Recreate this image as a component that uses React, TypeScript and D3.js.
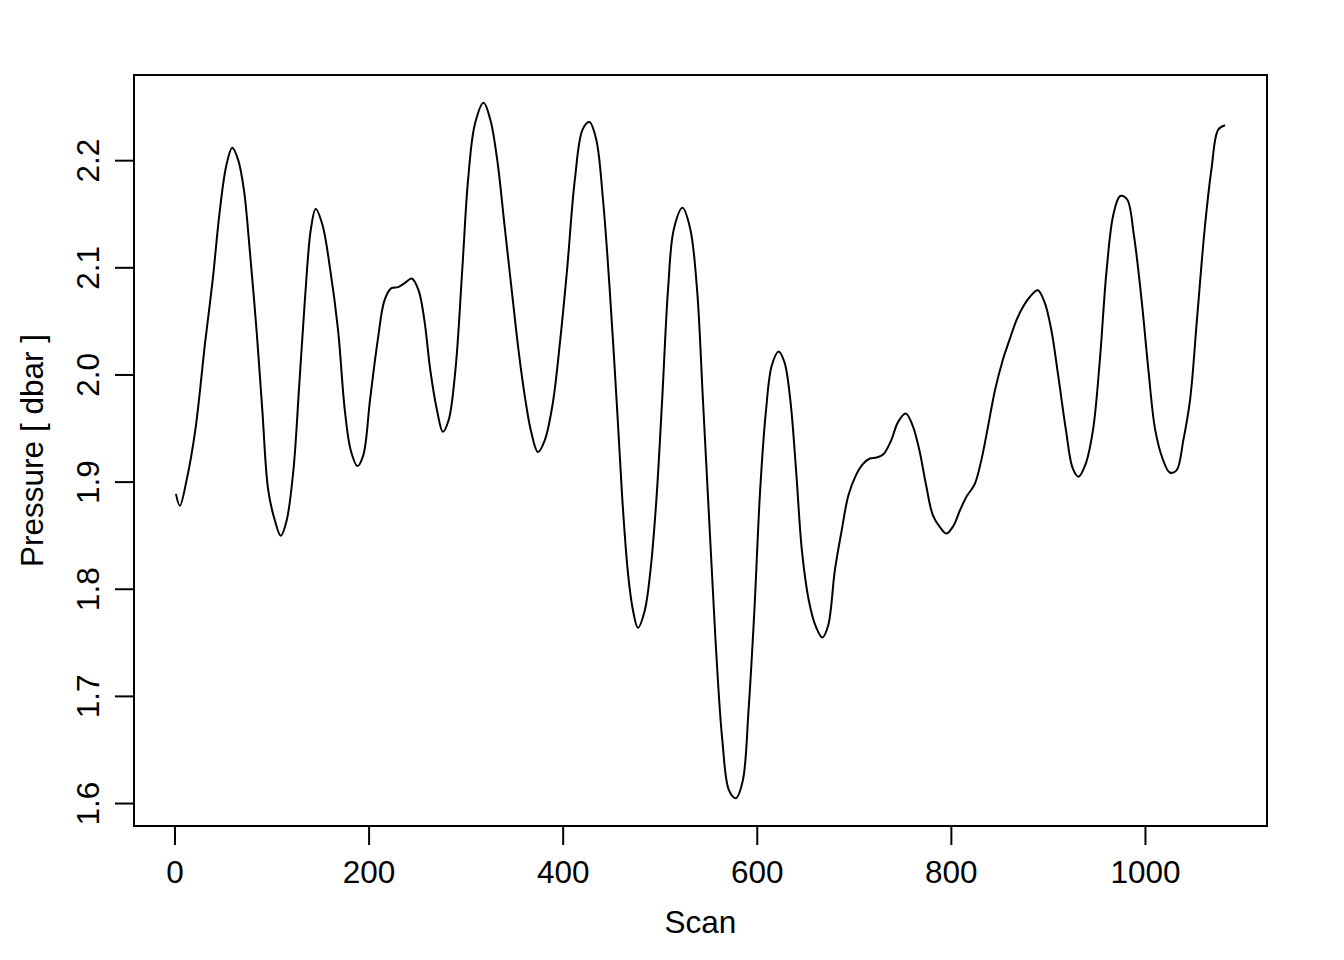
import React from "react";
import * as d3 from "d3";

const scans: number[] = [
  1, 5, 12, 21, 31, 39, 46, 53, 59, 65, 71, 77, 84, 90, 96, 103, 109, 115, 122, 128,
  134, 140, 145, 152, 160, 168, 175, 181, 188, 194, 201, 209, 216, 223, 230, 237, 244, 251, 257, 263,
  270, 276, 282, 289, 296, 302, 309, 318, 325, 332, 340, 347, 354, 361, 367, 374, 381, 389, 397, 404,
  412, 420, 427, 434, 441, 448, 455, 461, 467, 472, 477, 484, 490, 496, 502, 508, 514, 523, 531, 538,
  544, 551, 557, 564, 571, 578, 585, 591, 597, 603, 609, 615, 622, 628, 634, 640, 646, 653, 660, 667,
  673, 680, 687, 694, 702, 709, 716, 723, 730, 738, 745, 753, 760, 767, 774, 781, 789, 795, 802, 809,
  816, 824, 831, 838, 845, 853, 860, 867, 874, 881, 889, 896, 903, 910, 918, 925, 931, 938, 946, 953,
  960, 967, 974, 981, 988, 996, 1003, 1010, 1018, 1025, 1032, 1039, 1046, 1053, 1061, 1068, 1075, 1082,
];

const pressures: number[] = [
  1.889, 1.878, 1.902, 1.949, 2.03, 2.09, 2.152, 2.196, 2.212, 2.201, 2.173, 2.117, 2.042, 1.967, 1.893, 1.864, 1.85, 1.864, 1.911, 1.99,
  2.072, 2.136, 2.155, 2.14, 2.098, 2.042, 1.967, 1.93, 1.915, 1.925, 1.977, 2.033, 2.07, 2.081, 2.082, 2.086, 2.09, 2.079, 2.051, 2.005,
  1.967, 1.947, 1.958, 2.005, 2.098, 2.182, 2.234, 2.254, 2.238, 2.201, 2.136, 2.079, 2.023, 1.977, 1.947, 1.928, 1.939, 1.972, 2.033, 2.098,
  2.182, 2.229, 2.236, 2.22, 2.164, 2.079, 1.977, 1.883, 1.813, 1.78, 1.764, 1.78, 1.818, 1.883, 1.977, 2.079, 2.136, 2.156, 2.136, 2.079,
  1.977, 1.855, 1.752, 1.659, 1.612, 1.605, 1.621, 1.687, 1.78, 1.893, 1.967, 2.009, 2.022, 2.012, 1.977, 1.911, 1.836, 1.79, 1.766, 1.755,
  1.766, 1.818, 1.855, 1.888, 1.907, 1.917, 1.922, 1.923, 1.926, 1.939, 1.956, 1.964, 1.953, 1.93, 1.897, 1.869, 1.857, 1.852, 1.859, 1.874,
  1.887, 1.898, 1.921, 1.953, 1.986, 2.014, 2.033, 2.051, 2.064, 2.073, 2.079, 2.068, 2.042, 2.0, 1.949, 1.913, 1.905, 1.916, 1.949, 2.014,
  2.098, 2.15, 2.167, 2.164, 2.131, 2.07, 2.005, 1.949, 1.921, 1.909, 1.911, 1.939, 1.977, 2.051, 2.136, 2.192, 2.229, 2.233,
];

const xTicks: number[] = [0, 200, 400, 600, 800, 1000];
const yTicks: number[] = [1.6, 1.7, 1.8, 1.9, 2.0, 2.1, 2.2];
const xTitle = "Scan";
const yTitle = "Pressure [ dbar ]";

const W = 1344;
const H = 960;
const L = 134;
const R = 1267;
const T = 75;
const B = 826;
const FONT = "'Liberation Sans', Arial, Helvetica, sans-serif";
const FS = 31.5;

function pad(ext: [number, number]): [number, number] {
  const d = (ext[1] - ext[0]) * 0.04;
  return [ext[0] - d, ext[1] + d];
}

export default function App() {
  const xs = d3.scaleLinear().domain(pad(d3.extent(scans) as [number, number])).range([L, R]);
  const ys = d3.scaleLinear().domain(pad(d3.extent(pressures) as [number, number])).range([B, T]);
  const pts: [number, number][] = scans.map((s, i) => [s, pressures[i]]);
  const line = d3
    .line<[number, number]>()
    .x((d) => xs(d[0]))
    .y((d) => ys(d[1]))
    .curve(d3.curveCatmullRom.alpha(0.5));
  const path = line(pts) || "";

  return (
    <svg
      width={W}
      height={H}
      style={{ position: "absolute", left: 0, top: 0, background: "#fff" }}
      fontFamily={FONT}
    >
      <rect x={0} y={0} width={W} height={H} fill="#fff" />
      <path d={path} fill="none" stroke="#000" strokeWidth={2} strokeLinejoin="round" />
      <rect x={L} y={T} width={R - L} height={B - T} fill="none" stroke="#000" strokeWidth={2} />
      {/* x axis */}
      <line x1={xs(xTicks[0])} x2={xs(xTicks[xTicks.length - 1])} y1={B} y2={B} stroke="#000" strokeWidth={2} />
      {xTicks.map((t) => (
        <g key={"x" + t}>
          <line x1={xs(t)} x2={xs(t)} y1={B} y2={B + 19} stroke="#000" strokeWidth={2} />
          <text x={xs(t)} y={883} fontSize={FS} textAnchor="middle" fill="#000">
            {t}
          </text>
        </g>
      ))}
      {/* y axis */}
      {yTicks.map((t) => (
        <g key={"y" + t}>
          <line x1={L} x2={L - 19} y1={ys(t)} y2={ys(t)} stroke="#000" strokeWidth={2} />
          <text
            transform={`translate(99,${ys(t)}) rotate(-90)`}
            fontSize={FS}
            textAnchor="middle"
            fill="#000"
          >
            {t.toFixed(1)}
          </text>
        </g>
      ))}
      <text x={(L + R) / 2} y={933} fontSize={FS} textAnchor="middle" fill="#000">
        {xTitle}
      </text>
      <text
        transform={`translate(43,${(T + B) / 2}) rotate(-90)`}
        fontSize={FS}
        textAnchor="middle"
        fill="#000"
      >
        {yTitle}
      </text>
    </svg>
  );
}
